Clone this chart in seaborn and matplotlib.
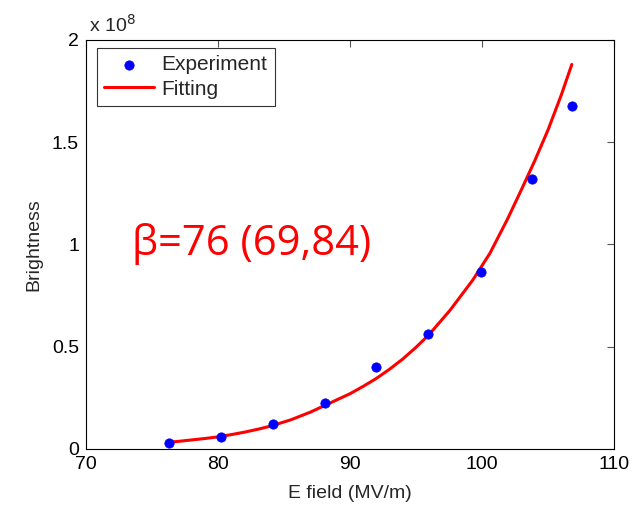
import pandas as pd
import matplotlib
matplotlib.use("Agg")
import matplotlib.pyplot as plt
import seaborn as sns

# measured brightness (in units of 1e8) vs E field (MV/m)
e_field = [76.3, 80.2, 84.2, 88.1, 92.0, 95.9, 99.9, 103.8, 106.8]
brightness = [0.029, 0.059, 0.122, 0.225, 0.400, 0.562, 0.866, 1.320, 1.677]

# fitted curve
fit_e = [76.3, 77, 78, 79, 80, 81, 82, 83, 84, 85.5, 87, 88.5, 90, 91, 92, 93, 94,
         95, 96, 97.6, 99.3, 100.6, 101.9, 103, 104, 105, 106, 106.8]
fit_b = [0.033, 0.037, 0.044, 0.051, 0.059, 0.070, 0.082, 0.096, 0.112, 0.142,
         0.180, 0.225, 0.270, 0.306, 0.345, 0.390, 0.440, 0.497, 0.560, 0.680,
         0.826, 0.957, 1.120, 1.270, 1.410, 1.560, 1.730, 1.880]

sns.set_style("white")
plt.rcParams['font.family'] = ['Liberation Sans', 'DejaVu Sans']

exp_df = pd.DataFrame({'E': e_field, 'B': brightness})
fit_df = pd.DataFrame({'E': fit_e, 'B': fit_b})

fig = plt.figure(figsize=(6.44, 5.05), dpi=100)
ax = fig.add_axes([0.1335, 0.111, 0.82, 0.81])

sns.scatterplot(data=exp_df, x='E', y='B', ax=ax, color='#0000ff', s=45,
                edgecolor='#0000ff', label='Experiment', zorder=3)
sns.lineplot(data=fit_df, x='E', y='B', ax=ax, color='#ff0000', linewidth=2.2,
             label='Fitting', zorder=2)

ax.set_xlim(70, 110)
ax.set_ylim(0, 2)
ax.set_xticks([70, 80, 90, 100, 110])
ax.set_yticks([0, 0.5, 1, 1.5, 2])
ax.set_yticklabels(['0', '0.5', '1', '1.5', '2'])
ax.tick_params(direction='in', top=True, right=True, length=5, width=0.8,
               labelsize=14, color='#555555', labelcolor='black', pad=5)
for s in ax.spines.values():
    s.set_color('black')
    s.set_linewidth(0.8)

ax.set_xlabel('E field (MV/m)', fontsize=14, labelpad=9)
ax.set_ylabel('Brightness', fontsize=14, labelpad=7)
ax.text(0.005, 1.01, 'x 10$^8$', transform=ax.transAxes, fontsize=14,
        ha='left', va='bottom')

ax.text(73.5, 1.0, 'β=76 (69,84)', color='#ff0000', fontsize=30,
        family=['Open Sans', 'DejaVu Sans'], va='center', ha='left')

leg = ax.legend(loc='upper left', bbox_to_anchor=(0.021, 0.980), fontsize=15,
                frameon=True, fancybox=False, borderaxespad=0, handlelength=2.4,
                borderpad=0.35, labelspacing=0.25, handletextpad=0.35)
leg.get_frame().set_edgecolor('black')
leg.get_frame().set_linewidth(0.8)

fig.savefig('out.png', dpi=100)
